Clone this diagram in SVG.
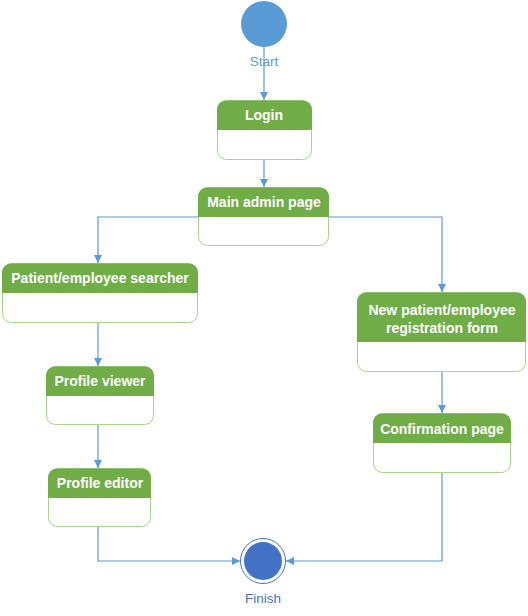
<svg xmlns="http://www.w3.org/2000/svg" width="528" height="616" viewBox="0 0 528 616">
<style>
.box{fill:#fff;stroke:#A9D18E;stroke-width:1}
.hdr{fill:#70AD47}
.t{font-family:"Liberation Sans",Arial,sans-serif;font-weight:bold;font-size:14px;fill:#fff;text-anchor:middle}
.c{fill:none;stroke:#5B9BD5;stroke-width:1.2}
.lbl{font-family:"Liberation Sans",Arial,sans-serif;font-size:13.5px;text-anchor:middle}
</style>
<defs>
<marker id="a" viewBox="0 0 10 10" refX="10" refY="5" markerWidth="8" markerHeight="8" markerUnits="userSpaceOnUse" orient="auto">
<path d="M0,0 L10,5 L0,10 z" fill="#5B9BD5"/>
</marker>
</defs>
<rect width="528" height="616" fill="#fff"/>
<g id="connectors">
<path class="c" d="M264,47 V100" marker-end="url(#a)"/>
<path class="c" d="M264,159 V187" marker-end="url(#a)"/>
<path class="c" d="M198,217 H98 V263" marker-end="url(#a)"/>
<path class="c" d="M328,217 H442 V292" marker-end="url(#a)"/>
<path class="c" d="M98,323 V366" marker-end="url(#a)"/>
<path class="c" d="M98,425 V468" marker-end="url(#a)"/>
<path class="c" d="M98,527 V561 H240" marker-end="url(#a)"/>
<path class="c" d="M442,372 V413" marker-end="url(#a)"/>
<path class="c" d="M442,473 V561 H286" marker-end="url(#a)"/>
</g>
<g id="start">
<circle cx="264" cy="24" r="23" fill="#5B9BD5"/>
<text class="lbl" x="264" y="66" fill="#5B9BD5">Start</text>
</g>
<g id="login">
<rect class="box" x="217.5" y="100.5" width="94" height="59" rx="9"/>
<path class="hdr" d="M217,130 V109.5 A9,9 0 0 1 226,100.5 H303 A9,9 0 0 1 312,109.5 V130 z"/>
<text class="t" x="264" y="120">Login</text>
</g>
<g id="main">
<rect class="box" x="198.5" y="187.5" width="130" height="58" rx="9"/>
<path class="hdr" d="M198,217 V196.5 A9,9 0 0 1 207,187.5 H320 A9,9 0 0 1 329,196.5 V217 z"/>
<text class="t" x="264" y="207">Main admin page</text>
</g>
<g id="searcher">
<rect class="box" x="2.5" y="263.5" width="195" height="59" rx="9"/>
<path class="hdr" d="M2,293 V272.5 A9,9 0 0 1 11,263.5 H189 A9,9 0 0 1 198,272.5 V293 z"/>
<text class="t" x="100" y="283">Patient/employee searcher</text>
</g>
<g id="viewer">
<rect class="box" x="46.5" y="366.5" width="107" height="58" rx="9"/>
<path class="hdr" d="M46,396 V375.5 A9,9 0 0 1 55,366.5 H145 A9,9 0 0 1 154,375.5 V396 z"/>
<text class="t" x="100" y="386">Profile viewer</text>
</g>
<g id="editor">
<rect class="box" x="48.5" y="468.5" width="102" height="58" rx="9"/>
<path class="hdr" d="M48,498 V477.5 A9,9 0 0 1 57,468.5 H142 A9,9 0 0 1 151,477.5 V498 z"/>
<text class="t" x="100" y="488">Profile editor</text>
</g>
<g id="registration">
<rect class="box" x="357.5" y="292.5" width="168" height="79" rx="9"/>
<path class="hdr" d="M357,342 V301.5 A9,9 0 0 1 366,292.5 H517 A9,9 0 0 1 526,301.5 V342 z"/>
<text class="t" x="442" y="315">New patient/employee</text>
<text class="t" x="442" y="333">registration form</text>
</g>
<g id="confirmation">
<rect class="box" x="373.5" y="413.5" width="137" height="59" rx="9"/>
<path class="hdr" d="M373,443 V422.5 A9,9 0 0 1 382,413.5 H502 A9,9 0 0 1 511,422.5 V443 z"/>
<text class="t" x="442" y="434">Confirmation page</text>
</g>
<g id="finish">
<circle cx="263" cy="561" r="22.5" fill="#fff" stroke="#4472C4" stroke-width="1"/>
<circle cx="263" cy="561" r="19" fill="#4472C4"/>
<text class="lbl" x="263" y="603" fill="#4472C4">Finish</text>
</g>
</svg>
